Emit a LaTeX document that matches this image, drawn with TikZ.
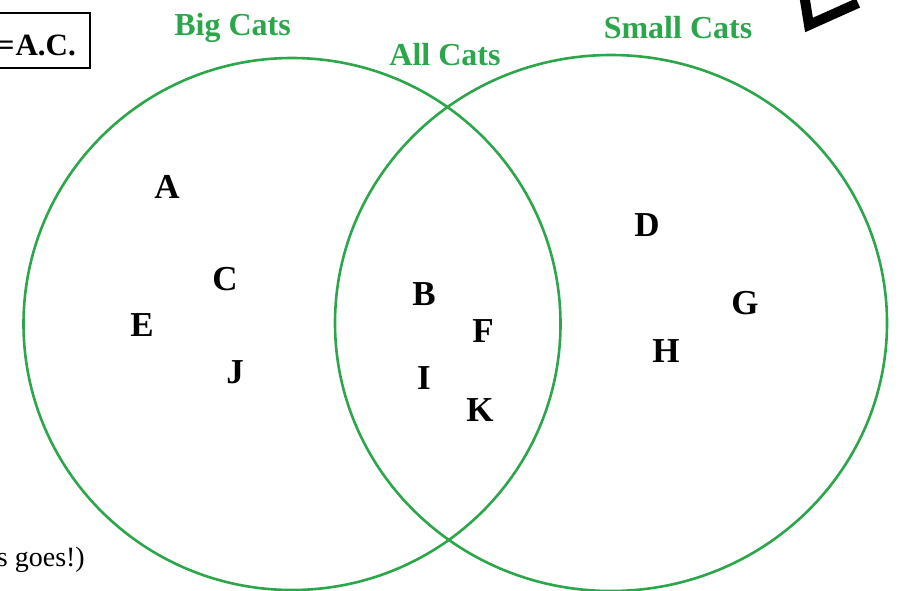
\documentclass[tikz,border=0pt]{standalone}
\usepackage{fontspec}
\setmainfont{Liberation Serif}
\definecolor{venngreen}{RGB}{44,166,74}
\begin{document}
\begin{tikzpicture}[x=1pt,y=-1pt,
  title/.style={text=venngreen,font=\bfseries\fontsize{32}{34}\selectfont,anchor=base,inner sep=0pt},
  member/.style={font=\bfseries\fontsize{35}{37}\selectfont,inner sep=0pt},
  setline/.style={draw=venngreen,line width=2.6pt}]
\clip (0,0) rectangle (899,590);
% sets
\draw[setline] (292,324) ellipse [x radius=268.5pt, y radius=266pt];
\draw[setline] (611,323) ellipse [x radius=276pt, y radius=268pt];
% titles
\node[title] (big) at (232.5,35) {Big Cats};
\node[title] (all) at (445,65) {All Cats};
\node[title] (small) at (678,38) {Small Cats};
% members
\node[member] (A) at (167,187) {A};
\node[member] (C) at (225,279) {C};
\node[member] (E) at (142,325) {E};
\node[member] (J) at (235,372) {J};
\node[member] (B) at (424,294) {B};
\node[member] (F) at (483,331) {F};
\node[member] (I) at (424,378) {I};
\node[member] (K) at (480,410) {K};
\node[member] (D) at (647,225) {D};
\node[member] (G) at (745,303) {G};
\node[member] (H) at (666,351) {H};
% box top-left
\draw[line width=2pt] (-20,13) rectangle (90,68);
\node[font=\bfseries\fontsize{31}{33}\selectfont,anchor=base east,inner sep=0pt] (ac) at (76,55) {=\kern1pt A.C.};
% bottom-left text
\node[font=\fontsize{28}{30}\selectfont,anchor=base east,inner sep=0pt] (goes) at (85,566) {s goes!)};
% arrow top-right
\coordinate (tip) at (809,25);
\coordinate (arm1) at (803,-12);
\coordinate (arm2) at (858,3);
\draw[line width=10pt,line join=miter,line cap=butt] (arm1) -- (tip) -- (arm2);
\end{tikzpicture}
\end{document}
